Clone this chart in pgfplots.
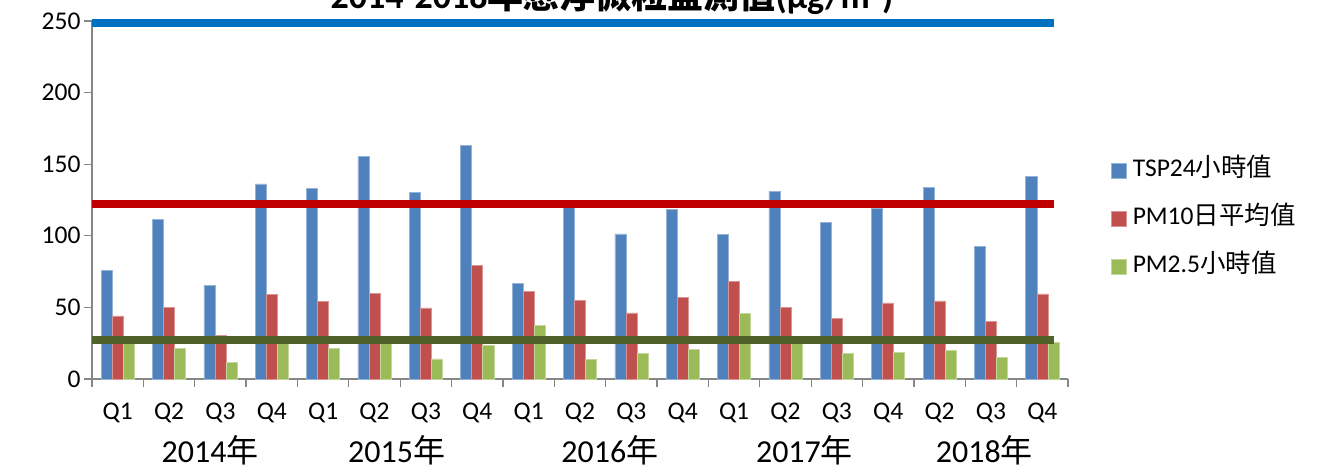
\documentclass[border=0pt]{standalone}
\usepackage{pgfplots}
\pgfplotsset{compat=1.18}
\usepackage{fontspec}
\setmainfont{Carlito}
\newfontfamily\cjk{Noto Sans CJK TC}
\definecolor{barblue}{HTML}{4F81BD}
\definecolor{barred}{HTML}{C0504D}
\definecolor{bargreen}{HTML}{9BBB59}
\definecolor{lineblue}{HTML}{0070C0}
\definecolor{linered}{HTML}{C00000}
\definecolor{linegreen}{HTML}{4F6228}
\definecolor{axisgray}{HTML}{868686}
\pgfplotsset{sqlegend/.style={legend image code/.code={\fill[##1] (0pt,-1pt) rectangle (15pt,14pt);}}}
\begin{document}
\begin{tikzpicture}
\begin{axis}[
  at={(0,0)}, anchor=south west, scale only axis,
  width=976pt, height=358pt,
  xmin=-0.5, xmax=18.5, ymin=0, ymax=250,
  ybar=0pt, bar width=0.215,
  axis x line*=bottom, axis y line*=left,
  axis line style={draw=axisgray, line width=1.3pt, -},
  tick style={draw=axisgray, line width=1.3pt},
  major tick length=8pt, tick align=outside,
  xtick={-0.5,0.5,...,18.5},
  xticklabels={Q1,Q2,Q3,Q4,Q1,Q2,Q3,Q4,Q1,Q2,Q3,Q4,Q1,Q2,Q3,Q4,Q2,Q3,Q4},
  x tick label as interval,
  xticklabel style={yshift=-12pt},
  ytick={0,50,...,250},
  /pgf/number format/assume math mode=true,
  ticklabel style={font=\fontsize{25.5}{25.5}\selectfont},
  clip=false,
  legend style={at={(1.044,0.447)}, anchor=west, draw=none, fill=none, inner sep=0pt,
    row sep=24pt, column sep=6pt,
    nodes={inner sep=0pt, text height=18pt, text depth=6pt, anchor=base west,
      font=\fontsize{25.5}{28}\selectfont}},
  legend cell align=left,
]
\addplot[fill=barblue, draw=barblue!60!white, line width=0.6pt, sqlegend] coordinates {
(0,75.6) (1,111.7) (2,65.4) (3,136.2) (4,132.9) (5,155.7) (6,130.3) (7,163.2)
(8,66.8) (9,120) (10,101.3) (11,118.2) (12,101.0) (13,131.0) (14,109.4) (15,119.5)
(16,133.8) (17,92.6) (18,141.3)};
\addplot[fill=barred, draw=barred!60!white, line width=0.6pt, sqlegend] coordinates {
(0,44.0) (1,49.8) (2,30.5) (3,58.9) (4,54.2) (5,59.8) (6,49.6) (7,79.4)
(8,61.0) (9,55.0) (10,46.1) (11,57.0) (12,68.2) (13,50.0) (14,42.1) (15,53.1)
(16,54.5) (17,40.2) (18,59.4)};
\addplot[fill=bargreen, draw=bargreen!60!white, line width=0.6pt, sqlegend] coordinates {
(0,27) (1,21.6) (2,11.6) (3,27) (4,21.6) (5,27) (6,14.0) (7,23.3)
(8,37.5) (9,13.7) (10,17.9) (11,20.7) (12,45.8) (13,27) (14,17.9) (15,18.6)
(16,20.2) (17,15.1) (18,25.3)};
\legend{TSP24{\cjk 小時值},PM10{\cjk 日平均值},PM2.5{\cjk 小時值}}
\addplot[sharp plot, no marks, draw=lineblue, line width=7.7pt, forget plot] coordinates {(-0.5,248.5) (18.22,248.5)};
\addplot[sharp plot, no marks, draw=linered, line width=7.7pt, forget plot] coordinates {(-0.5,122.2) (18.22,122.2)};
\addplot[sharp plot, no marks, draw=linegreen, line width=7.7pt, forget plot] coordinates {(-0.5,27.2) (18.22,27.2)};
\node[anchor=base, yshift=-83pt, font=\fontsize{32}{32}\selectfont] at (axis cs:1.80,0) {2014{\cjk 年}};
\node[anchor=base, yshift=-83pt, font=\fontsize{32}{32}\selectfont] at (axis cs:5.43,0) {2015{\cjk 年}};
\node[anchor=base, yshift=-83pt, font=\fontsize{32}{32}\selectfont] at (axis cs:9.58,0) {2016{\cjk 年}};
\node[anchor=base, yshift=-83pt, font=\fontsize{32}{32}\selectfont] at (axis cs:13.37,0) {2017{\cjk 年}};
\node[anchor=base, yshift=-83pt, font=\fontsize{32}{32}\selectfont] at (axis cs:16.87,0) {2018{\cjk 年}};
\end{axis}
\node[anchor=base, font=\bfseries\fontsize{36}{36}\selectfont] at (520pt,370pt) {2014-2018{\cjk 年懸浮微粒監測值}(μg/m³)};
\pgfresetboundingbox
\path[use as bounding box] (-92pt,-90pt) rectangle (1246pt,379pt);
\end{tikzpicture}
\end{document}
